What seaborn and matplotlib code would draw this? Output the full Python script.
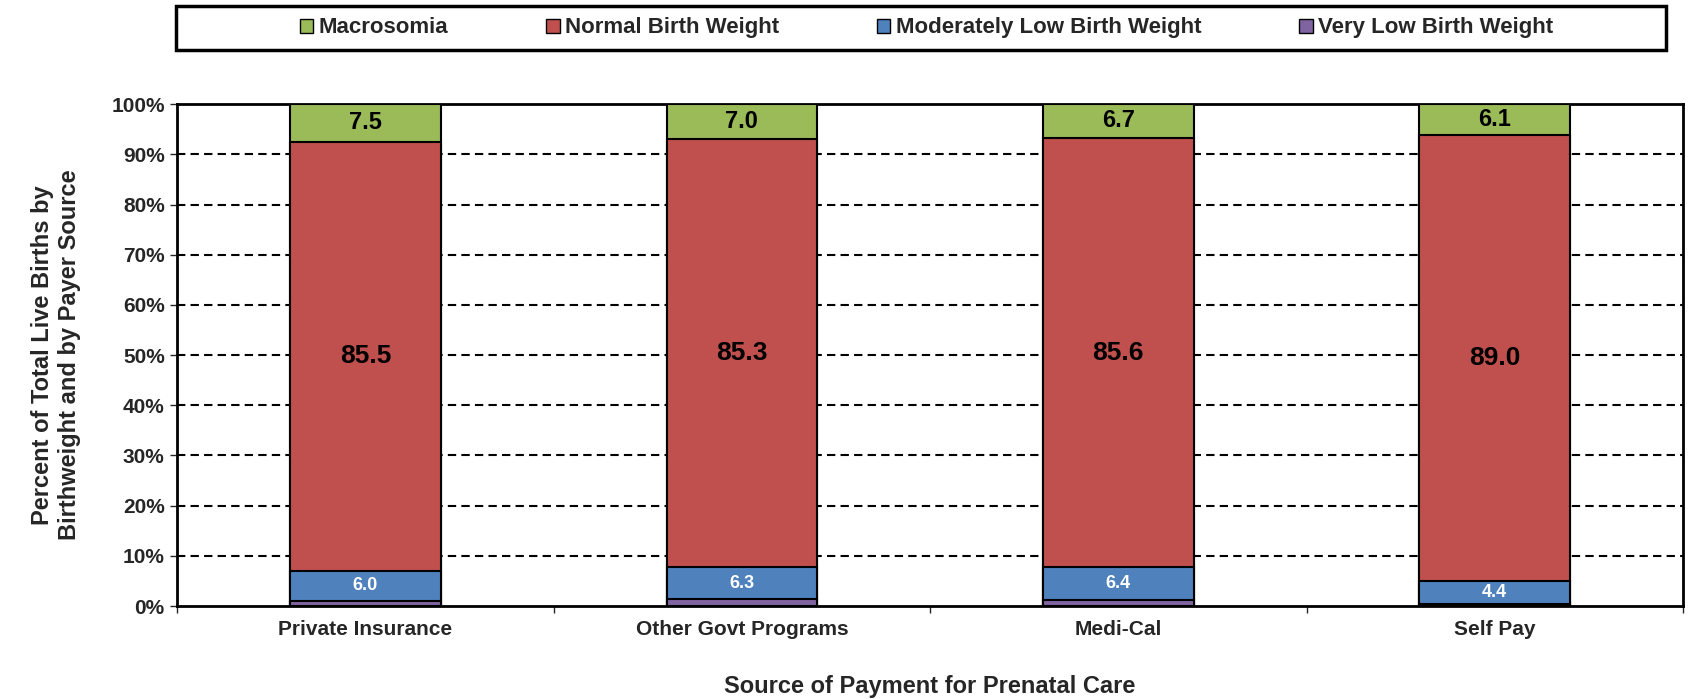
import numpy as np
import pandas as pd
import seaborn as sns
import matplotlib.pyplot as plt
from matplotlib.patches import Patch, Rectangle
from matplotlib.ticker import FixedLocator, PercentFormatter

sns.set_style('white')
plt.rcParams['font.family'] = ['Liberation Sans', 'DejaVu Sans']
plt.rcParams['font.weight'] = 'bold'

payers = ['Private Insurance', 'Other Govt Programs', 'Medi-Cal', 'Self Pay']
very_low = [1.0, 1.4, 1.3, 0.5]
moderately_low = [6.0, 6.3, 6.4, 4.4]
normal = [85.5, 85.3, 85.6, 89.0]
macrosomia = [7.5, 7.0, 6.7, 6.1]

series = ['Macrosomia', 'Normal Birth Weight', 'Moderately Low Birth Weight', 'Very Low Birth Weight']
colors = {'Macrosomia': '#9BBB59', 'Normal Birth Weight': '#C0504D',
          'Moderately Low Birth Weight': '#4F81BD', 'Very Low Birth Weight': '#8064A2'}

df = pd.DataFrame({'payer': payers, 'Very Low Birth Weight': very_low,
                   'Moderately Low Birth Weight': moderately_low,
                   'Normal Birth Weight': normal, 'Macrosomia': macrosomia})

# cumulative tops, bottom segment first
stack_order = ['Very Low Birth Weight', 'Moderately Low Birth Weight', 'Normal Birth Weight', 'Macrosomia']
cum = df[stack_order].cumsum(axis=1)
cum['payer'] = df['payer']

fig, ax = plt.subplots(figsize=(16.88, 6.99), dpi=100)
fig.subplots_adjust(left=0.105, right=0.997, top=0.851, bottom=0.133)

for s in reversed(stack_order):
    sns.barplot(data=cum, x='payer', y=s, color=colors[s], width=0.40,
                edgecolor='black', linewidth=1.5, saturation=1, ax=ax, zorder=3)

# value labels
label_style = {'Macrosomia': (17, 'black'), 'Normal Birth Weight': (19, 'black'),
               'Moderately Low Birth Weight': (13, 'white')}
for i in range(len(payers)):
    base = 0
    for s in stack_order:
        v = df.loc[i, s]
        if s in label_style:
            fs, c = label_style[s]
            ax.text(i, base + v / 2, f'{v:.1f}', ha='center', va='center', fontsize=fs,
                    color=c, fontweight='bold', zorder=5)
        base += v

ax.set_ylim(0, 100)
ax.set_xlim(-0.5, len(payers) - 0.5)
ax.yaxis.set_major_locator(FixedLocator(np.arange(0, 101, 10)))
ax.yaxis.set_major_formatter(PercentFormatter(decimals=0))
for y in range(10, 100, 10):
    ax.axhline(y, color='black', ls=(0, (4, 2.5)), lw=1.5, zorder=1)

ax.xaxis.set_minor_locator(FixedLocator(np.arange(-0.5, len(payers), 1)))
ax.tick_params(axis='x', which='major', length=0, labelsize=15, pad=10)
ax.tick_params(axis='x', which='minor', length=5, width=1, direction='out', bottom=True)
ax.tick_params(axis='y', length=5, width=1, direction='out', left=True, labelsize=15, pad=4)
for lab in ax.get_xticklabels() + ax.get_yticklabels():
    lab.set_fontweight('bold')

for sp in ax.spines.values():
    sp.set_color('black')
    sp.set_linewidth(2)

ax.set_xlabel('Source of Payment for Prenatal Care', fontsize=17, fontweight='bold', labelpad=26)
ax.set_ylabel('Percent of Total Live Births by\nBirthweight and by Payer Source', fontsize=17,
              fontweight='bold', labelpad=22)

# legend box spanning the top, entries centred inside
fig.patches.append(Rectangle((0.104, 0.928), 0.883, 0.064, transform=fig.transFigure,
                             facecolor='white', edgecolor='black', linewidth=2.5, zorder=0))
handles = [Patch(facecolor=colors[s], edgecolor='black', linewidth=1) for s in series]
leg = fig.legend(handles, series, loc='center', bbox_to_anchor=(0.549, 0.96),
                 ncol=4, frameon=False, fontsize=16,
                 handlelength=0.6, handleheight=0.6, handletextpad=0.25, borderaxespad=0,
                 columnspacing=4.4)
for t in leg.get_texts():
    t.set_fontweight('bold')

fig.savefig('out.png', dpi=100)
